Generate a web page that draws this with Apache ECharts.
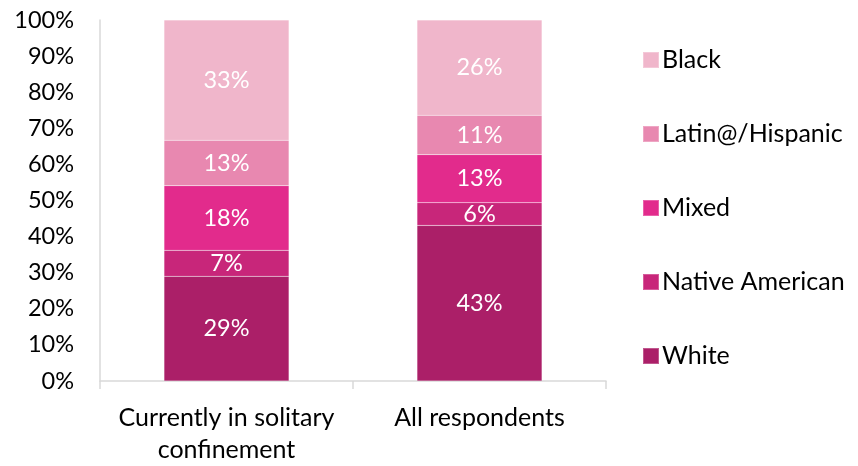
<!DOCTYPE html>
<html><head><meta charset="utf-8">
<script src="https://cdn.jsdelivr.net/npm/echarts@6/dist/echarts.min.js"></script>
<style>html,body{margin:0;padding:0;background:#fff}#c{width:858px;height:466px}</style>
</head><body><div id="c"></div>
<script>
const categories = ['Currently in solitary\nconfinement', 'All respondents'];
const seriesNames = ['White', 'Native American', 'Mixed', 'Latin@/Hispanic', 'Black'];
const white = [29.0, 43.1];
const nativeAmerican = [7.2, 6.3];
const mixed = [17.9, 13.3];
const latin = [12.6, 10.9];
const black = [33.3, 26.4];
const yTicks = [0, 10, 20, 30, 40, 50, 60, 70, 80, 90, 100];
const colors = ['#AB1F68', '#C8267A', '#E22B8C', '#E888B0', '#F0B6CB'];
const values = [white, nativeAmerican, mixed, latin, black];
const FONT = 'Lato';

const chart = echarts.init(document.getElementById('c'), null, {renderer: 'canvas'});
chart.setOption({
  animation: false,
  textStyle: {fontFamily: FONT},
  grid: {left: 100, right: 252, top: 20, bottom: 84, containLabel: false},
  legend: {
    orient: 'vertical', left: 637, top: 42,
    data: seriesNames.slice().reverse(),
    icon: 'rect', itemWidth: 16, itemHeight: 16, itemGap: 48,
    textStyle: {fontFamily: FONT, fontSize: 25, color: '#000', lineHeight: 26, padding: [0,0,0,-2]},
    selectedMode: false
  },
  xAxis: {
    type: 'category', data: categories,
    axisLine: {lineStyle: {color: '#D9D9D9', width: 1.5}},
    axisTick: {show: true, length: 8, alignWithLabel: false, lineStyle: {color: '#D9D9D9', width: 1.5}},
    axisLabel: {fontFamily: FONT, fontSize: 25, color: '#000', lineHeight: 32, margin: 21, interval: 0}
  },
  yAxis: {
    type: 'value', min: 0, max: 100, interval: 10,
    axisLine: {show: true, lineStyle: {color: '#D9D9D9', width: 1.5}},
    axisTick: {show: false},
    splitLine: {show: false},
    axisLabel: {fontFamily: FONT, fontSize: 23.5, color: '#000', margin: 26,
      formatter: v => yTicks.includes(v) ? v + '%' : ''}
  },
  series: seriesNames.map((n, i) => ({
    name: n, type: 'bar', stack: 'total', barWidth: 125,
    itemStyle: {color: colors[i], borderColor: 'rgba(255,255,255,0.25)', borderWidth: 0.5},
    label: {show: true, position: 'inside', color: '#fff', fontFamily: FONT, fontSize: 23.5,
      formatter: p => Math.round(p.value) + '%'},
    data: values[i]
  }))
});
</script></body></html>
